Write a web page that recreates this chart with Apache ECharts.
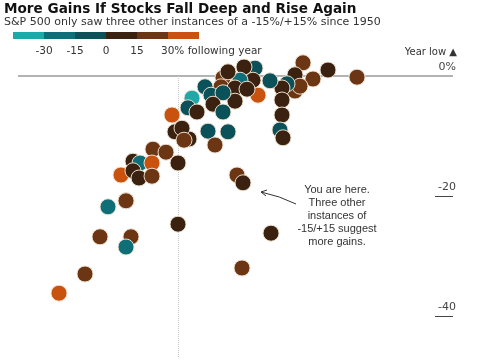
<!DOCTYPE html>
<html>
<head>
<meta charset="utf-8">
<script src="https://cdn.jsdelivr.net/npm/echarts@6/dist/echarts.min.js"></script>
<style>html,body{margin:0;padding:0;background:#fff}#c{width:485px;height:360px}</style>
</head>
<body>
<div id="c"></div>
<script>
// Full-year return (%), x axis
const yearReturn = [-13, -1.5, 19.25, 16.5, 26, 11.25, 10.75, 29.25, 2.75,
  31.25, 37.5, 44.75, 33.75, 29.25, 30.5, 27.25, 26, 23, 20, 18.75,
  15.5, 12.5, 14.25, 17.25, 14.25, 26, 26, 25.5, 26.25,
  6.75, 8.25, 11.25, 8.75, 11.25, 3.5, 2.5, 4.75, 7.5, 12.5, 9.25,
  -0.75, 1.0, 1.5, -6.25, -3, 0, -11.25, -9.5, -6.5, -14.25, -11.25, -9.75, -6.5,
  14.75, 16.25, 23.25, 16, 0, -17.5, -13, -19.5, -11.75, -13, -23.25, -29.75];
// Year low vs prior year-end (%), y axis
const yearLow = [-20.8, -6.5, 1.3, 1.5, -2.0, -0.3, -1.8, -2.5, -10.5,
  2.2, 1.0, -0.2, -0.5, 0.2, -1.7, -1.3, -2.0, -0.8, -3.2, -0.7,
  -0.7, 0.7, -2.0, -2.2, -4.2, -4.0, -6.5, -9.0, -10.3,
  -1.8, -3.2, -2.8, -4.7, -6.0, -3.7, -5.3, -6.0, -9.2, -9.3, -11.5,
  -9.3, -8.7, -10.7, -12.2, -12.7, -14.5, -14.2, -14.5, -14.5, -16.5, -15.8, -17, -16.7,
  -16.5, -17.8, -26.2, -32, -24.7, -21.8, -20.8, -26.8, -26.8, -28.5, -33, -36.2];
// Following-year return bin: 0 <-30, 1 -30..-15, 2 -15..0, 3 0..15, 4 15..30, 5 >30
const nextYearBin = [4, 5, 2, 3, 3, 4, 4, 4, 3,
  4, 3, 4, 4, 3, 4, 2, 3, 2, 5, 3,
  1, 3, 3, 3, 3, 3, 3, 2, 3,
  2, 2, 2, 3, 2, 0, 2, 3, 2, 2, 4,
  3, 3, 4, 4, 4, 3, 3, 1, 5, 5, 3, 3, 4,
  4, 3, 3, 4, 3, 1, 4, 4, 4, 1, 4, 5];
const binColors = ['#1ea9a8', '#0f6f78', '#0b5159', '#3b2210', '#6c3614', '#c8520e'];
const legendLabels = ['-30', '-15', '0', '15', '30% following year'];
const yTickValues = [-40, -20, 0];

const FONT = '"DejaVu Sans", "Liberation Sans", Arial, sans-serif';
const chart = echarts.init(document.getElementById('c'));
const data = yearReturn.map((x, i) => ({
  value: [x, yearLow[i]],
  itemStyle: { color: binColors[nextYearBin[i]] }
}));

const legendGraphics = [];
const segW = 31, segX0 = 13;
binColors.forEach((c, i) => {
  legendGraphics.push({ type: 'rect', shape: { x: segX0 + i * segW, y: 32, width: segW, height: 7 }, style: { fill: c } });
});
legendLabels.forEach((t, i) => {
  const bx = segX0 + (i + 1) * segW;
  const last = i === legendLabels.length - 1;
  legendGraphics.push({ type: 'text', x: last ? bx - 7 : bx, y: 51,
    style: { text: t, fill: '#333', font: '10.5px ' + FONT,
      textAlign: last ? 'left' : 'center', textVerticalAlign: 'middle' } });
});

chart.setOption({
  animation: false,
  grid: { left: 18, right: 32, top: 46, height: 312 },
  xAxis: { type: 'value', min: -40, max: 68.75, show: false },
  yAxis: {
    type: 'value', min: -47, max: 5, position: 'right',
    axisLine: { show: false, onZero: false }, splitLine: { show: false },
    axisTick: { show: true, inside: true, length: 18, customValues: [-40, -20],
      lineStyle: { color: '#444', width: 1 } },
    axisLabel: { customValues: yTickValues, align: 'right', margin: 3,
      verticalAlign: 'bottom', padding: [0, 0, 3, 0],
      color: '#444', fontSize: 11, fontFamily: FONT,
      formatter: v => v === 0 ? '0%' : String(v) }
  },
  graphic: legendGraphics.concat([
    { type: 'text', x: 4, y: 2, style: { text: 'More Gains If Stocks Fall Deep and Rise Again', fill: '#111',
      font: 'bold 13.6px ' + FONT, textVerticalAlign: 'top' } },
    { type: 'text', x: 4, y: 17, style: { text: 'S&P 500 only saw three other instances of a -15%/+15% since 1950', fill: '#333',
      font: '11px ' + FONT, textVerticalAlign: 'top' } },
    { type: 'text', x: 457, y: 52, style: { text: 'Year low ▲', fill: '#333',
      font: '10px ' + FONT, textAlign: 'right', textVerticalAlign: 'middle' } },
    { type: 'text', x: 337, y: 183, style: { text: 'You are here.\nThree other\ninstances of\n-15/+15 suggest\nmore gains.',
      fill: '#333', font: '11px "Liberation Sans", Arial, sans-serif', textAlign: 'center', lineHeight: 13 } },
    { type: 'bezierCurve', shape: { x1: 296, y1: 204, cpx1: 280, cpy1: 196, x2: 261, y2: 192 },
      style: { stroke: '#333', lineWidth: 1, fill: null } },
    { type: 'polyline', shape: { points: [[267, 190], [261, 192], [266, 196]] },
      style: { stroke: '#333', lineWidth: 1, fill: null } }
  ]),
  series: [
    {
      type: 'scatter', data: [], z: 1, silent: true,
      markLine: {
        z: 1, symbol: 'none', silent: true, label: { show: false },
        data: [
          { yAxis: 0, lineStyle: { color: '#9a9a9a', width: 1.5, type: 'solid' } },
          [{ coord: [0, 0], lineStyle: { color: '#c8c8c8', width: 1, type: 'dotted' } }, { coord: [0, -47] }]
        ]
      }
    },
    {
      type: 'scatter', z: 3, data: data, symbolSize: 16,
      itemStyle: { borderColor: 'rgba(240,228,210,0.95)', borderWidth: 1, opacity: 1 }
    }
  ]
});
</script>
</body>
</html>
